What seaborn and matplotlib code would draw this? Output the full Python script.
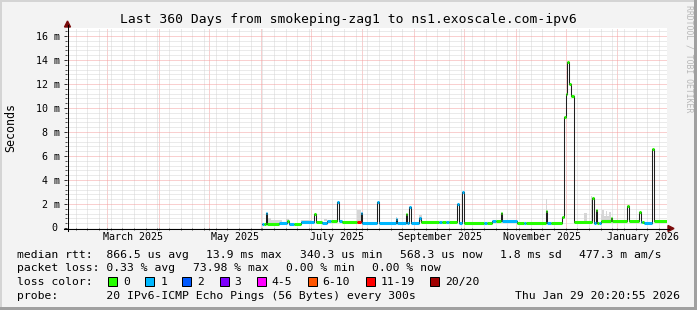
import numpy as np
import pandas as pd
import matplotlib
matplotlib.use("Agg")
import matplotlib.pyplot as plt
import matplotlib.dates as mdates
from matplotlib.ticker import FixedLocator, MultipleLocator
from matplotlib.patches import Rectangle, Polygon
from matplotlib.lines import Line2D
import seaborn as sns

W, H = 697, 310
MONO = "DejaVu Sans Mono"
plt.rcParams["font.family"] = [MONO, "DejaVu Sans"]

# ---------------- data ----------------
x_start = "2025-02-04 18:00"
x_end = "2026-01-30 18:00"

# median rtt (ms) change points, loss colour index per period
med_dates = [
    "2025-06-02", "2025-06-03", "2025-06-04", "2025-06-05", "2025-06-12",
    "2025-06-17", "2025-06-18", "2025-06-21", "2025-06-25", "2025-07-03",
    "2025-07-04", "2025-07-08", "2025-07-11", "2025-07-13", "2025-07-17",
    "2025-07-18", "2025-07-20", "2025-07-29", "2025-07-31", "2025-08-01",
    "2025-08-10", "2025-08-11", "2025-08-21", "2025-08-22", "2025-08-27",
    "2025-08-28", "2025-08-29", "2025-08-30", "2025-09-04", "2025-09-05",
    "2025-09-16", "2025-09-18", "2025-09-20", "2025-09-22", "2025-09-27",
    "2025-09-28", "2025-09-30", "2025-10-01", "2025-10-13", "2025-10-15",
    "2025-10-18", "2025-10-20", "2025-10-23", "2025-10-24", "2025-11-02",
    "2025-11-06", "2025-11-07", "2025-11-19", "2025-11-20", "2025-11-22",
    "2025-11-29", "2025-11-30", "2025-12-01", "2025-12-02", "2025-12-03",
    "2025-12-04", "2025-12-06", "2025-12-17", "2025-12-18", "2025-12-19",
    "2025-12-20", "2025-12-21", "2025-12-22", "2025-12-28", "2025-12-29",
    "2026-01-07", "2026-01-08", "2026-01-14", "2026-01-15", "2026-01-16",
    "2026-01-17", "2026-01-22", "2026-01-23",
]
med_ms = [
    0.36, 0.33, 1.22, 0.33, 0.44,
    0.60, 0.33, 0.36, 0.52, 1.20,
    0.50, 0.40, 0.60, 0.62, 2.15,
    0.55, 0.53, 0.53, 1.28, 0.45,
    2.15, 0.45, 0.75, 0.45, 1.17,
    0.45, 1.75, 0.45, 0.80, 0.47,
    0.47, 0.47, 0.47, 0.47, 2.00,
    0.45, 2.97, 0.44, 0.44, 0.44,
    0.58, 0.58, 1.25, 0.58, 0.44,
    0.44, 0.44, 1.44, 0.44, 0.44,
    0.89, 9.28, 11.17, 13.86, 11.97,
    11.00, 0.53, 2.53, 0.44, 1.50,
    0.38, 0.45, 0.60, 0.80, 0.60,
    1.80, 0.60, 1.30, 0.50, 0.50,
    0.40, 6.56, 0.55,
]
med_loss = [
    1, 0, 1, 0, 1,
    0, 1, 0, 1, 0,
    0, 1, 1, 0, 1,
    1, 0, 6, 1, 1,
    1, 1, 1, 1, 0,
    1, 1, 1, 1, 0,
    1, 0, 1, 0, 1,
    1, 1, 0, 1, 0,
    1, 0, 0, 1, 0,
    1, 0, 0, 1, 0,
    0, 0, 0, 0, 0,
    0, 0, 0, 1, 0,
    0, 1, 0, 0, 0,
    0, 0, 0, 1, 0,
    1, 0, 0,
]

# smoke (ping spread) blocks
smoke_start = ["2025-06-05", "2025-06-07", "2025-06-16", "2025-06-25", "2025-07-09",
               "2025-07-29", "2025-08-21", "2025-09-04", "2025-11-19", "2025-12-12",
               "2025-12-16", "2025-12-22", "2025-12-23", "2025-12-24", "2025-12-25",
               "2025-12-26", "2025-12-27"]
smoke_end = ["2025-06-07", "2025-06-14", "2025-06-18", "2025-07-02", "2025-07-11",
             "2025-07-31", "2025-08-22", "2025-09-06", "2025-11-20", "2025-12-14",
             "2025-12-17", "2025-12-23", "2025-12-24", "2025-12-25", "2025-12-26",
             "2025-12-27", "2025-12-28"]
smoke_lo = [0.33, 0.33, 0.33, 0.52, 0.60,
            0.53, 0.45, 0.47, 0.44, 0.53,
            0.53, 0.60, 0.60, 0.60, 0.60,
            0.60, 0.60]
smoke_hi = [0.85, 0.68, 0.75, 0.68, 0.75,
            1.50, 0.95, 1.10, 2.40, 1.25,
            2.70, 1.20, 1.50, 1.00, 1.40,
            1.00, 1.30]

loss_labels = ["0", "1", "2", "3", "4-5", "6-10", "11-19", "20/20"]
loss_colors = ["#26ff00", "#00b8ff", "#0059ff", "#7e00ff",
               "#ff00ff", "#ff5500", "#ff0000", "#a00000"]

y_ticks = [0, 2, 4, 6, 8, 10, 12, 14, 16]
y_tick_labels = ["", "2 m", "4 m", "6 m", "8 m", "10 m", "12 m", "14 m", "16 m"]
zero_label = "0"
x_label_dates = ["2025-03-16 12:00", "2025-05-16 12:00", "2025-07-16 12:00",
                 "2025-09-16 12:00", "2025-11-16 12:00", "2026-01-16 12:00"]
x_labels = ["March 2025", "May 2025", "July 2025",
            "September 2025", "November 2025", "January 2026"]

title = "Last 360 Days from smokeping-zag1 to ns1.exoscale.com-ipv6"
rtt_items = ["median rtt:  866.5 us avg", "13.9 ms max", "340.3 us min",
             "568.3 us now", "1.8 ms sd", "477.3 m am/s"]
loss_items = ["packet loss: 0.33 % avg", "73.98 % max", "0.00 % min",
              "0.00 % now"]
probe_line = "probe:       20 IPv6-ICMP Echo Pings (56 Bytes) every 300s"
stamp = "Thu Jan 29 20:20:55 2026"

# ---------------- helpers ----------------
def fx(x):
    return x / W

def fy(y):
    return 1 - y / H

def dn(s):
    return mdates.date2num(pd.Timestamp(s).to_pydatetime())

LEG_FS = 8.2     # legend font size (pt)
CW = 6.86        # legend character advance (px)
GAP = 17.8       # px between legend items
LEFT = 17

def place_items(items, y):
    x = LEFT
    for txt in items:
        fig.text(fx(x), fy(y), txt, ha="left", va="center", fontsize=LEG_FS)
        x += CW * len(txt) + GAP

# ---------------- figure ----------------
fig = plt.figure(figsize=(W / 100, H / 100), dpi=100)
fig.patch.set_facecolor("#f3f3f3")
ax = fig.add_axes([fx(67), fy(228), 600 / W, 200 / H])
ax.set_facecolor("white")

t0, t1 = dn(x_start), dn(x_end)
ax.set_xlim(t0, t1)
ax.set_ylim(0, 200 / 12)

# grid
ax.xaxis.set_major_locator(mdates.MonthLocator())
ax.xaxis.set_minor_locator(mdates.WeekdayLocator(byweekday=mdates.MO))
ax.yaxis.set_major_locator(FixedLocator(y_ticks))
ax.yaxis.set_minor_locator(MultipleLocator(0.4))
ax.set_axisbelow(True)
ax.grid(which="major", color="#f4a0a0", linestyle=(0, (1, 1)), linewidth=0.72)
ax.grid(which="minor", color="#d6d6d6", linestyle=(0, (1, 1)), linewidth=0.72)

ax.set_yticklabels(y_tick_labels)
ax.tick_params(axis="y", which="major", length=2.2, width=0.72, pad=2.9,
               labelsize=7.2, color="#333333")
ax.tick_params(axis="y", which="minor", length=1.4, width=0.72, color="#555555")
ax.tick_params(axis="x", which="both", labelbottom=False, length=1.5,
               width=0.72, color="#555555")
for s in ax.spines.values():
    s.set_visible(False)

# smoke
for s, e, lo, hi in zip(smoke_start, smoke_end, smoke_lo, smoke_hi):
    ax.fill_between([dn(s), dn(e)], [lo, lo], [hi, hi], color="#d6d6d6",
                    linewidth=0, zorder=1.5)

# median line
mx = [dn(d) for d in med_dates]
step_x = mx + [t1]
step_y = med_ms + [med_ms[-1]]
df = pd.DataFrame({"t": step_x, "ms": step_y})
sns.lineplot(data=df, x="t", y="ms", drawstyle="steps-post", color="#202020",
             linewidth=0.75, ax=ax, estimator=None, sort=False, legend=False,
             zorder=2.5)
ax.set_xlabel("")
ax.set_ylabel("")

# loss-coloured band
ends = mx[1:] + [t1]
ax.hlines(med_ms, mx, ends, colors=[loss_colors[i] for i in med_loss],
          linewidth=2.2, zorder=3)

# x labels
for d, lbl in zip(x_label_dates, x_labels):
    ax.text(dn(d), -0.0465, lbl, transform=ax.get_xaxis_transform(),
            ha="center", va="center", fontsize=7.2, color="black")
fig.text(fx(54.5), fy(228), zero_label, ha="center", va="center", fontsize=7.2)

# axes lines and arrows
fig.add_artist(Line2D([fx(67.5), fx(67.5)], [fy(231), fy(25)], color="black",
                      lw=0.75, transform=fig.transFigure))
fig.add_artist(Line2D([fx(64), fx(669)], [fy(228.5), fy(228.5)], color="black",
                      lw=0.75, transform=fig.transFigure))
fig.add_artist(Polygon([[fx(64.5), fy(27)], [fx(70.5), fy(27)], [fx(67.5), fy(21)]],
                       closed=True, color="#7a0a0a", transform=fig.transFigure))
fig.add_artist(Polygon([[fx(668), fy(225.5)], [fx(668), fy(231.5)], [fx(674), fy(228.5)]],
                       closed=True, color="#7a0a0a", transform=fig.transFigure))

# texts
fig.text(fx(348.5), fy(19.3), title, ha="center", va="center", fontsize=9.4)
fig.text(fx(10.5), fy(128), "Seconds", rotation=90, ha="center", va="center",
         fontsize=8.4)
fig.text(fx(689), fy(59), "RRDTOOL / TOBI OETIKER", rotation=270, ha="center",
         va="center", fontsize=5.9, color="#b8b8b8")

place_items(rtt_items, 254.7)
place_items(loss_items, 268.3)
fig.text(fx(LEFT), fy(282.3), "loss color:", ha="left", va="center", fontsize=LEG_FS)
bx = 108
for lbl, col in zip(loss_labels, loss_colors):
    fig.add_artist(Rectangle((fx(bx), fy(286)), 9 / W, 9 / H, facecolor=col,
                             edgecolor="black", linewidth=0.72,
                             transform=fig.transFigure))
    fig.text(fx(bx + 15), fy(282.3), lbl, ha="left", va="center", fontsize=LEG_FS)
    bx += 37.2 + CW * (len(lbl) - 1)
fig.text(fx(LEFT), fy(296), probe_line, ha="left", va="center", fontsize=LEG_FS)
fig.text(fx(680), fy(296), stamp, ha="right", va="center", fontsize=LEG_FS)

# 3D frame
fig.add_artist(Rectangle((0, fy(2)), 1, 2 / H, facecolor="#d4d4d4", lw=0,
                         transform=fig.transFigure))
fig.add_artist(Rectangle((0, 0), 2 / W, 1, facecolor="#d4d4d4", lw=0,
                         transform=fig.transFigure))
fig.add_artist(Rectangle((0, 0), 1, 3 / H, facecolor="#a0a0a0", lw=0,
                         transform=fig.transFigure))
fig.add_artist(Rectangle((fx(694), 0), 3 / W, 1, facecolor="#a0a0a0", lw=0,
                         transform=fig.transFigure))

fig.savefig("out.png", dpi=100, facecolor=fig.get_facecolor())
